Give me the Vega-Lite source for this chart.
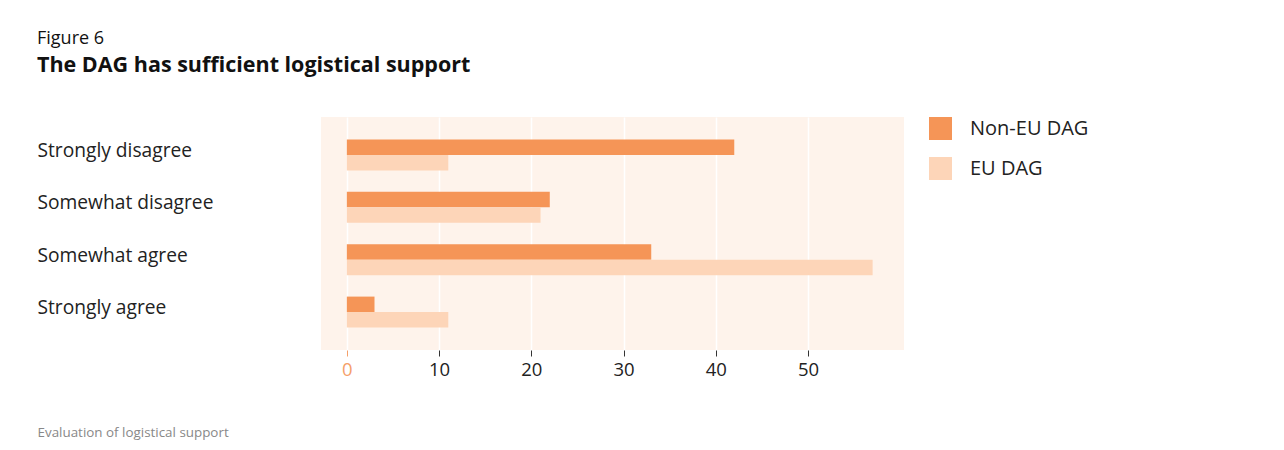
{
  "$schema": "https://vega.github.io/schema/vega-lite/v6.json",
  "width": 583,
  "height": 233,
  "autosize": "none",
  "padding": {"left": 321, "top": 117, "right": 380, "bottom": 100},
  "background": "white",
  "config": {
    "font": "Open Sans",
    "view": {"fill": "#FEF3EB", "stroke": null}
  },
  "title": {
    "text": "Figure 6",
    "subtitle": "The DAG has sufficient logistical support",
    "anchor": "start",
    "frame": "group",
    "dx": -284,
    "offset": 41,
    "fontSize": 18,
    "fontWeight": "normal",
    "color": "#111",
    "subtitleFontSize": 21.5,
    "subtitleFontWeight": "bold",
    "subtitleColor": "#111",
    "subtitlePadding": 7
  },
  "data": {
    "values": [
      {"response": "Strongly disagree", "group": "Non-EU DAG", "value": 42},
      {"response": "Strongly disagree", "group": "EU DAG", "value": 11},
      {"response": "Somewhat disagree", "group": "Non-EU DAG", "value": 22},
      {"response": "Somewhat disagree", "group": "EU DAG", "value": 21},
      {"response": "Somewhat agree", "group": "Non-EU DAG", "value": 33},
      {"response": "Somewhat agree", "group": "EU DAG", "value": 57},
      {"response": "Strongly agree", "group": "Non-EU DAG", "value": 3},
      {"response": "Strongly agree", "group": "EU DAG", "value": 11}
    ]
  },
  "encoding": {
    "y": {
      "field": "response",
      "type": "nominal",
      "sort": ["Strongly disagree", "Somewhat disagree", "Somewhat agree", "Strongly agree"],
      "scale": {"paddingInner": 0.41, "paddingOuter": 0.43},
      "axis": {
        "title": null,
        "labelAlign": "left",
        "labelPadding": 284,
        "labelOffset": -4,
        "ticks": false,
        "domain": false,
        "grid": false,
        "labelFontSize": 19.2,
        "labelColor": "#222",
        "labelLimit": 400
      }
    }
  },
  "layer": [
    {
      "mark": {"type": "bar"},
      "encoding": {
        "x": {
          "field": "value",
          "type": "quantitative",
          "scale": {"domain": [-2.8, 60.4], "nice": false, "zero": false},
          "axis": {
            "values": [0, 10, 20, 30, 40, 50],
            "domain": false,
            "grid": true,
            "gridColor": "white",
            "gridWidth": 1.5,
            "tickSize": 6,
            "tickColor": {"condition": {"test": "datum.value === 0", "value": "#F5A06A"}, "value": "#333"},
            "labelColor": {"condition": {"test": "datum.value === 0", "value": "#F5A06A"}, "value": "#222"},
            "labelFontSize": 18.5,
            "labelPadding": 4,
            "title": "Evaluation of logistical support",
            "titleX": -284,
            "titleY": 82,
            "titleAlign": "left",
            "titleBaseline": "middle",
            "titleFontSize": 13.4,
            "titleFontWeight": "normal",
            "titleColor": "#888"
          }
        },
        "yOffset": {
          "field": "group",
          "type": "nominal",
          "sort": ["Non-EU DAG", "EU DAG"],
          "scale": {"paddingInner": 0, "paddingOuter": 0}
        },
        "color": {
          "field": "group",
          "type": "nominal",
          "scale": {"domain": ["Non-EU DAG", "EU DAG"], "range": ["#F59557", "#FDD5B8"]},
          "legend": {
            "title": null,
            "orient": "right",
            "offset": 25,
            "padding": 0,
            "symbolType": "square",
            "symbolSize": 529,
            "symbolStrokeWidth": 0,
            "labelFontSize": 20,
            "labelColor": "#222",
            "labelOffset": 18,
            "rowPadding": 17
          }
        }
      }
    },
    {
      "mark": {"type": "rule", "color": "#F5A06A", "strokeWidth": 1.5},
      "encoding": {"x": {"datum": 0, "type": "quantitative"}}
    }
  ]
}
